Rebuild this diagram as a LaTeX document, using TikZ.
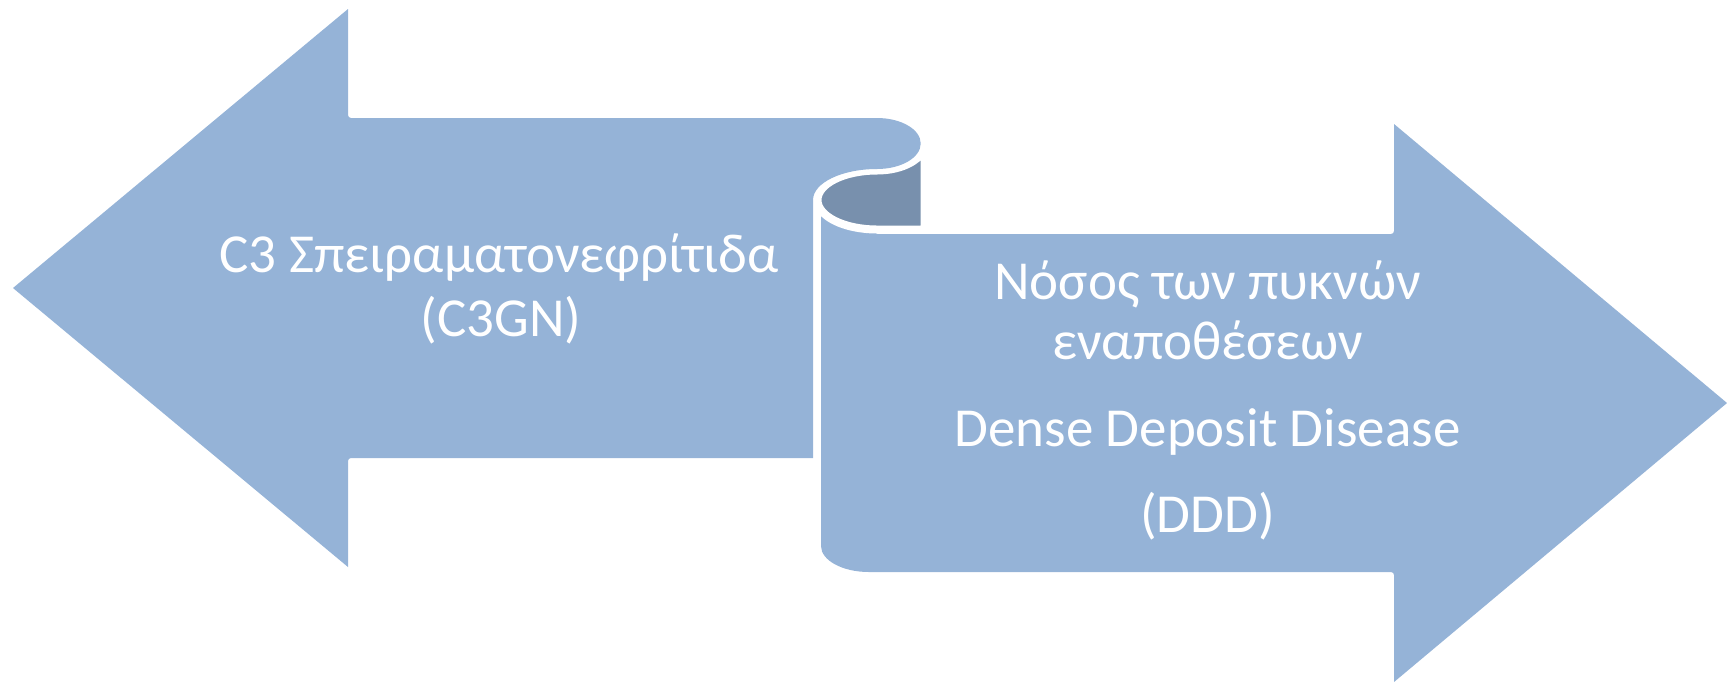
\documentclass[tikz,border=0pt]{standalone}
\usepackage{fontspec}
\setmainfont{Carlito}
\definecolor{lightblue}{HTML}{95B3D7}
\definecolor{darkblue}{HTML}{7890AD}
\begin{document}
\begin{tikzpicture}[x=0.2pt,y=-0.2pt,
  lightshape/.style={fill=lightblue,draw=none},
  rollshape/.style={fill=darkblue,draw=white,line width=1.6pt},
  label/.style={text=white,inner sep=0pt,anchor=base,font=\fontsize{11}{12.2}\selectfont}]
\useasboundingbox (0,0) rectangle (1727,681);
% right arrow body
\path[lightshape] (821,200) -- (821,546)
  arc[start angle=180,end angle=90,x radius=48,y radius=26]
  [rounded corners=0.6pt] -- (1394,572) [sharp corners] -- (1394,682) -- (1727,403) -- (1394,124)
  [rounded corners=0.6pt] -- (1394,234) [sharp corners] -- (877,234) -- (877,200) -- cycle;
% dark back of the roll
\path[rollshape] (924.7,229.5) -- (877,229.5)
  arc[start angle=90,end angle=270,x radius=59.5,y radius=29.5]
  arc[start angle=90,end angle=0,x radius=47.7,y radius=27] -- cycle;
% left arrow with curl
\path[lightshape] (13,288) -- (348,9) [rounded corners=0.6pt] -- (348,118) [sharp corners] -- (877,118)
  arc[start angle=270,end angle=450,x radius=43.7,y radius=25.5]
  arc[start angle=270,end angle=180,x radius=64,y radius=31]
  -- (813,458) [rounded corners=0.6pt] -- (348,458) [sharp corners] -- (348,567) -- cycle;
% texts
\node[label] (l1) at (499,272) {C3 Σπειραματονεφρίτιδα};
\node[label] (l2) at (501,336) {(C3GN)};
\node[label] (r1) at (1207.5,299) {Νόσος των πυκνών};
\node[label] (r2) at (1207.5,359) {εναποθέσεων};
\node[label] (r3) at (1207.5,446) {Dense Deposit Disease};
\node[label] (r4) at (1207.5,532) {(DDD)};
\end{tikzpicture}
\end{document}
